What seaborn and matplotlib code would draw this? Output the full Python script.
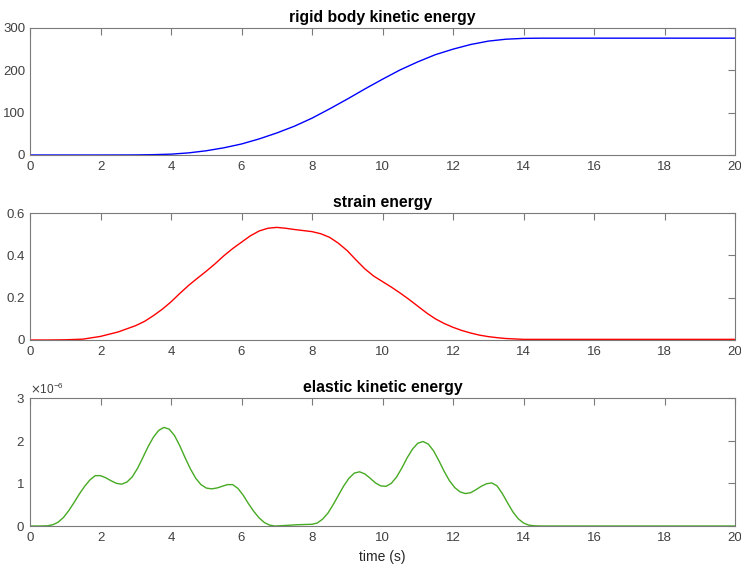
import numpy as np
import pandas as pd
import matplotlib
matplotlib.use("Agg")
import matplotlib.pyplot as plt
import seaborn as sns
from matplotlib.ticker import ScalarFormatter, FuncFormatter

# ---- data ----
t_rigid = [0, 1, 2, 2.5, 3, 3.5, 4, 4.5, 5, 5.5, 6, 6.5, 7, 7.5, 8, 8.5, 9, 9.5, 10, 10.5,
           11, 11.5, 12, 12.5, 13, 13.5, 14, 14.5, 15, 16, 17, 18, 19, 20]
e_rigid = [0, 0, 0, 0.05, 0.2, 0.8, 2, 5, 10, 17, 26, 38, 52, 68, 87, 109, 132, 156, 179,
           201, 220, 237, 250, 261, 269, 273.5, 275.5, 276, 276, 276, 276, 276, 276, 276]

t_strain = [0, 0.5, 1, 1.5, 2, 2.5, 3, 3.25, 3.5, 3.75, 4, 4.25, 4.5, 4.75, 5, 5.25, 5.5,
            5.75, 6, 6.25, 6.5, 6.75, 7, 7.25, 7.5, 7.75, 8, 8.25, 8.5, 8.75, 9, 9.25, 9.5,
            9.75, 10, 10.25, 10.5, 10.75, 11, 11.25, 11.5, 11.75, 12, 12.25, 12.5, 12.75, 13,
            13.25, 13.5, 13.75, 14, 15, 16, 17, 18, 19, 20]
e_strain = [0, 0, 0.001, 0.004, 0.017, 0.038, 0.068, 0.088, 0.115, 0.145, 0.18, 0.22, 0.258,
            0.292, 0.325, 0.36, 0.398, 0.432, 0.462, 0.492, 0.515, 0.528, 0.532, 0.528, 0.522,
            0.517, 0.512, 0.502, 0.485, 0.457, 0.422, 0.378, 0.336, 0.302, 0.276, 0.25, 0.222,
            0.192, 0.16, 0.128, 0.1, 0.078, 0.06, 0.045, 0.033, 0.023, 0.016, 0.011, 0.007,
            0.005, 0.003, 0.003, 0.003, 0.003, 0.003, 0.003, 0.003]

t_elastic = [0, 0.3, 0.5, 0.65, 0.8, 0.95, 1.1, 1.25, 1.4, 1.55, 1.7, 1.85, 2.0, 2.15, 2.3,
             2.45, 2.6, 2.75, 2.9, 3.05, 3.2, 3.35, 3.5, 3.65, 3.8, 3.95, 4.1, 4.25, 4.4, 4.55,
             4.7, 4.85, 5.0, 5.15, 5.3, 5.45, 5.6, 5.75, 5.9, 6.05, 6.2, 6.35, 6.5, 6.65, 6.8,
             6.95, 7.2, 7.6, 8.0, 8.15, 8.3, 8.45, 8.6, 8.75, 8.9, 9.05, 9.2, 9.35, 9.5, 9.65,
             9.8, 9.95, 10.1, 10.25, 10.4, 10.55, 10.7, 10.85, 11.0, 11.15, 11.3, 11.45, 11.6,
             11.75, 11.9, 12.05, 12.2, 12.35, 12.5, 12.65, 12.8, 12.95, 13.1, 13.25, 13.4,
             13.55, 13.7, 13.85, 14.0, 14.15, 14.3, 14.5, 15, 16, 17, 18, 19, 20]
e_elastic = [0, 0, 0.005, 0.03, 0.09, 0.2, 0.36, 0.55, 0.75, 0.93, 1.08, 1.18, 1.18, 1.13,
             1.06, 1.0, 0.98, 1.03, 1.15, 1.35, 1.6, 1.86, 2.08, 2.24, 2.31, 2.27, 2.12, 1.88,
             1.6, 1.34, 1.12, 0.97, 0.89, 0.87, 0.89, 0.93, 0.97, 0.97, 0.88, 0.72, 0.52, 0.34,
             0.19, 0.08, 0.02, 0.0, 0.01, 0.03, 0.04, 0.07, 0.16, 0.3, 0.5, 0.72, 0.94, 1.12,
             1.24, 1.27, 1.22, 1.12, 1.01, 0.94, 0.93, 1.0, 1.15, 1.36, 1.6, 1.8, 1.94, 1.98,
             1.92, 1.76, 1.53, 1.28, 1.06, 0.9, 0.8, 0.76, 0.78, 0.85, 0.93, 0.99, 1.01, 0.94,
             0.76, 0.54, 0.33, 0.17, 0.07, 0.02, 0.005, 0, 0, 0, 0, 0, 0, 0]

titles = ["rigid body kinetic energy", "strain energy", "elastic kinetic energy"]
xticks = list(range(0, 21, 2))
yticks = [[0, 100, 200, 300], [0, 0.2, 0.4, 0.6], [0, 1e-6, 2e-6, 3e-6]]
colors = ["#0000ff", "#ff0000", "#46aa22"]
xlabel = "time (s)"

sns.set_theme(style="white")
plt.rcParams["font.family"] = ["Liberation Sans", "DejaVu Sans"]

fig = plt.figure(figsize=(7.41, 5.66), dpi=100)
left, width = 30 / 741, 705 / 741
boxes = [(28, 155), (213, 340), (398, 526)]

series = [
    (t_rigid, e_rigid, 1.0),
    (t_strain, e_strain, 1.0),
    (t_elastic, e_elastic, 1e-6),
]

axc = "#7a7a7a"
for i, ((top, bot), (tx, ey, sc)) in enumerate(zip(boxes, series)):
    ax = fig.add_axes([left, 1 - bot / 566, width, (bot - top) / 566])
    df = pd.DataFrame({"t": tx, "e": np.array(ey) * sc})
    sns.lineplot(data=df, x="t", y="e", ax=ax, color=colors[i], linewidth=1.0)
    ax.set_xlim(0, 20)
    ax.set_ylim(yticks[i][0], yticks[i][-1])
    ax.set_xticks(xticks)
    ax.set_yticks(yticks[i])
    ax.set_title(titles[i], fontsize=11.3, fontweight="bold", pad=4, color="black")
    ax.set_ylabel("")
    ax.set_xlabel(xlabel if i == 2 else "", fontsize=10, color="#262626", labelpad=4)
    for s in ax.spines.values():
        s.set_color(axc)
        s.set_linewidth(0.8)
    ax.tick_params(direction="in", length=5, width=0.8, color=axc, labelcolor="#404040",
                   labelsize=9.5, top=True, right=True)
    ax.tick_params(axis="x", pad=4.5)
    ax.tick_params(axis="y", pad=3.5)
    if i == 2:
        fmt = ScalarFormatter(useMathText=True)
        fmt.set_powerlimits((0, 0))
        ax.yaxis.set_major_formatter(fmt)
        ax.yaxis.get_offset_text().set_fontsize(8.5)
        ax.yaxis.get_offset_text().set_color("#404040")
    else:
        ax.yaxis.set_major_formatter(FuncFormatter(lambda v, p: f"{v:g}"))

fig.savefig("out.png", dpi=100)
